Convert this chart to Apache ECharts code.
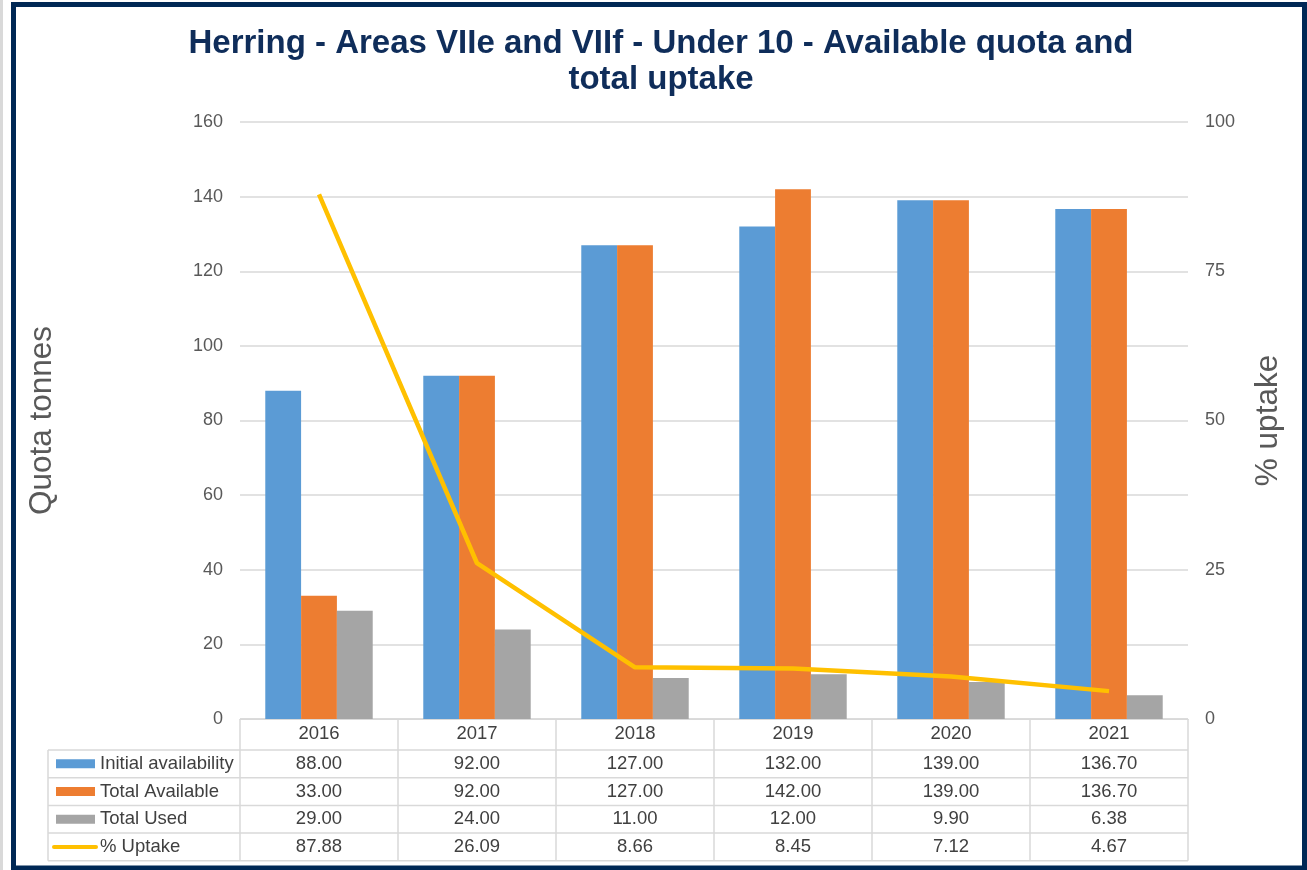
<!DOCTYPE html>
<html>
<head>
<meta charset="utf-8">
<script src="https://cdn.jsdelivr.net/npm/echarts@6/dist/echarts.min.js"></script>
<style>
html,body{margin:0;padding:0;background:#fff;}
#chart{width:1307px;height:870px;}
</style>
</head>
<body>
<div id="chart"></div>
<script>
const categories = ['2016', '2017', '2018', '2019', '2020', '2021'];
const initialAvailability = [88.00, 92.00, 127.00, 132.00, 139.00, 136.70];
const totalAvailable = [33.00, 92.00, 127.00, 142.00, 139.00, 136.70];
const totalUsed = [29.00, 24.00, 11.00, 12.00, 9.90, 6.38];
const pctUptake = [87.88, 26.09, 8.66, 8.45, 7.12, 4.67];
const leftTicks = [0, 20, 40, 60, 80, 100, 120, 140, 160];
const rightTicks = [0, 25, 50, 75, 100];

const seriesNames = ['Initial availability', 'Total Available', 'Total Used', '% Uptake'];
const colors = ['#5B9BD5', '#ED7D31', '#A5A5A5', '#FFC000'];
const tableRows = [initialAvailability, totalAvailable, totalUsed, pctUptake];

const FONT = 'Liberation Sans, Arial, sans-serif';
const textColor = '#595959';
const tableText = '#404040';
const borderColor = '#d9d9d9';

const gridL = 240, gridR = 1188, gridT = 122, gridB = 719;

const chart = echarts.init(document.getElementById('chart'));
const option = {
  animation: false,
  backgroundColor: '#ffffff',
  title: {
    text: 'Herring - Areas VIIe and VIIf - Under 10 - Available quota and\ntotal uptake',
    left: 661,
    top: 26,
    textAlign: 'center',
    padding: 0,
    textStyle: { fontFamily: FONT, fontSize: 33, fontWeight: 'bold', color: '#0F2D5A', lineHeight: 36 }
  },
  grid: { left: gridL, right: 1307 - gridR, top: gridT, bottom: 870 - gridB, containLabel: false },
  xAxis: {
    type: 'category',
    data: categories,
    axisLine: { show: true, lineStyle: { color: borderColor, width: 1 } },
    axisTick: { show: false },
    axisLabel: { show: false }
  },
  yAxis: [
    {
      type: 'value', min: leftTicks[0], max: leftTicks[leftTicks.length - 1], interval: 20,
      name: 'Quota tonnes', nameLocation: 'middle', nameRotate: 90, nameGap: 182,
      nameTextStyle: { fontFamily: FONT, fontSize: 31.5, color: textColor },
      axisLine: { show: false }, axisTick: { show: false },
      axisLabel: { fontFamily: FONT, fontSize: 18, color: textColor, margin: 17 },
      splitLine: { lineStyle: { color: borderColor, width: 1.5 } }
    },
    {
      type: 'value', min: rightTicks[0], max: rightTicks[rightTicks.length - 1], interval: 25,
      name: '% uptake', nameLocation: 'middle', nameRotate: 90, nameGap: 64,
      nameTextStyle: { fontFamily: FONT, fontSize: 31.5, color: textColor },
      axisLine: { show: false }, axisTick: { show: false },
      axisLabel: { fontFamily: FONT, fontSize: 18, color: textColor, margin: 17 },
      splitLine: { show: false }
    }
  ],
  series: [
    { name: seriesNames[0], type: 'bar', data: initialAvailability, itemStyle: { color: colors[0] }, barGap: '0%', barCategoryGap: '32%' },
    { name: seriesNames[1], type: 'bar', data: totalAvailable, itemStyle: { color: colors[1] }, barGap: '0%', barCategoryGap: '32%' },
    { name: seriesNames[2], type: 'bar', data: totalUsed, itemStyle: { color: colors[2] }, barGap: '0%', barCategoryGap: '32%' },
    { name: seriesNames[3], type: 'line', yAxisIndex: 1, data: pctUptake, showSymbol: false, symbol: 'none',
      lineStyle: { color: colors[3], width: 4.5 }, itemStyle: { color: colors[3] }, z: 5 }
  ]
};
chart.setOption(option);

// Build the data table below the plot, aligned with the category axis
const graphics = [];
const headerTop = gridB, headerBottom = 750;
const rowH = 27.7;
const tableLeft = 48;
const colW = (gridR - gridL) / categories.length;
const tableBottom = headerBottom + rowH * tableRows.length;
const TFS = 18.5;

graphics.push({ type: 'rect', shape: { x: 0, y: 0, width: 3, height: 870 }, style: { fill: '#d9d9d9' }, silent: true });
graphics.push({ type: 'rect', shape: { x: 13.5, y: 4.5, width: 1291, height: 863.5 }, style: { fill: 'none', stroke: '#002855', lineWidth: 5 }, silent: true, z: 100 });

function line(x1, y1, x2, y2) {
  graphics.push({ type: 'line', shape: { x1, y1, x2, y2 }, style: { stroke: borderColor, lineWidth: 1.5 }, silent: true });
}
for (let i = 0; i <= categories.length; i++) {
  const x = gridL + i * colW;
  line(x, headerTop, x, tableBottom);
}
line(tableLeft, headerBottom, tableLeft, tableBottom);
line(gridL, headerTop, gridR, headerTop);
for (let r = 0; r <= tableRows.length; r++) {
  const y = headerBottom + r * rowH;
  line(tableLeft, y, gridR, y);
}
categories.forEach((c, i) => {
  const cx = chart.convertToPixel({ xAxisIndex: 0 }, c);
  graphics.push({ type: 'text', x: cx, y: (headerTop + headerBottom) / 2 - 1, silent: true,
    style: { text: c, fontFamily: FONT, fontSize: TFS, fill: tableText, align: 'center', verticalAlign: 'middle' } });
});
tableRows.forEach((vals, r) => {
  const cy = headerBottom + r * rowH + rowH / 2;
  if (r < 3) {
    graphics.push({ type: 'rect', shape: { x: 56, y: cy - 4.5, width: 39, height: 9 }, style: { fill: colors[r] }, silent: true });
  } else {
    graphics.push({ type: 'line', shape: { x1: 54, y1: cy, x2: 96, y2: cy }, style: { stroke: colors[r], lineWidth: 4, lineCap: 'round' }, silent: true });
  }
  graphics.push({ type: 'text', x: 100, y: cy, silent: true,
    style: { text: seriesNames[r], fontFamily: FONT, fontSize: TFS, fill: tableText, align: 'left', verticalAlign: 'middle' } });
  vals.forEach((v, i) => {
    const cx = chart.convertToPixel({ xAxisIndex: 0 }, categories[i]);
    graphics.push({ type: 'text', x: cx, y: cy, silent: true,
      style: { text: v.toFixed(2), fontFamily: FONT, fontSize: TFS, fill: tableText, align: 'center', verticalAlign: 'middle' } });
  });
});
chart.setOption({ graphic: graphics });
</script>
</body>
</html>
